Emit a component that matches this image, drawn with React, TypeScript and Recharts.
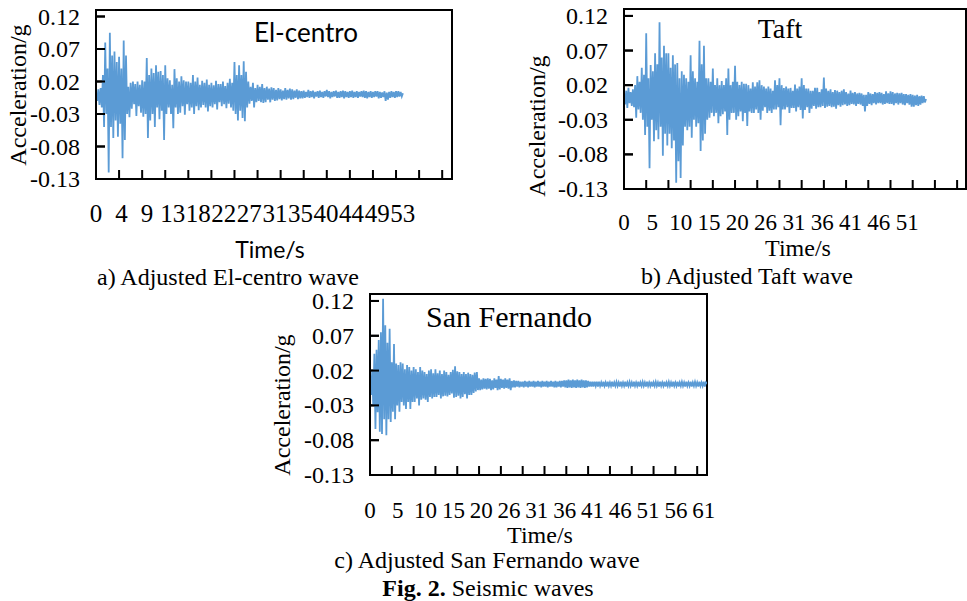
import React from 'react';
import { LineChart, Line, XAxis, YAxis, ReferenceArea, CartesianGrid } from 'recharts';

// ---------- data (acceleration in g, sampled every DT seconds) ----------
const EL_DT = 0.2;
const EL_VALUES = [
  0.004, -0.01, 0.008, -0.016, 0.01, -0.02, 0.03, -0.05, 0.08, -0.03,
  0.04, -0.12, 0.095, -0.05, 0.06, -0.067, 0.066, -0.04, 0.05, -0.065,
  0.058, -0.045, 0.04, -0.098, 0.083, -0.07, 0.06, -0.03, 0.012, -0.035,
  0.018, -0.022, 0.02, -0.015, 0.016, -0.033, 0.02, -0.018, 0.015, -0.028,
  0.022, -0.034, 0.02, -0.03, 0.056, -0.067, 0.03, -0.04, 0.04, -0.03,
  0.033, -0.05, 0.045, -0.02, 0.035, -0.038, 0.036, -0.025, 0.03, -0.07,
  0.045, -0.03, 0.025, -0.02, 0.022, -0.03, 0.015, -0.052, 0.039, -0.02,
  0.025, -0.03, 0.02, -0.028, 0.028, -0.018, 0.022, -0.031, 0.02, -0.015,
  0.02, -0.025, 0.018, -0.02, 0.03, -0.03, 0.02, -0.018, 0.026, -0.024,
  0.015, -0.02, 0.021, -0.016, 0.018, -0.02, 0.023, -0.026, 0.015, -0.018,
  0.018, -0.02, 0.014, -0.015, 0.021, -0.023, 0.016, -0.012, 0.016, -0.018,
  0.02, -0.015, 0.013, -0.021, 0.018, -0.014, 0.024, -0.02, 0.018, -0.025,
  0.05, -0.03, 0.03, -0.04, 0.045, -0.025, 0.03, -0.036, 0.051, -0.041,
  0.035, -0.02, 0.02, -0.014, 0.012, -0.01, 0.018, -0.02, 0.01, -0.012,
  0.015, -0.01, 0.012, -0.012, 0.016, -0.013, 0.01, -0.012, 0.012, -0.008,
  0.009, -0.012, 0.011, -0.008, 0.01, -0.01, 0.007, -0.009, 0.01, -0.007,
  0.008, -0.009, 0.006, -0.007, 0.01, -0.008, 0.007, -0.006, 0.009, -0.008,
  0.008, -0.007, 0.006, -0.005, 0.008, -0.007, 0.006, -0.006, 0.005, -0.006,
  0.006, -0.005, 0.004, -0.004, 0.007, -0.005, 0.005, -0.004, 0.006, -0.006,
  0.004, -0.003, 0.005, -0.005, 0.006, -0.004, 0.004, -0.005, 0.005, -0.003,
  0.007, -0.004, 0.005, -0.006, 0.004, -0.004, 0.005, -0.003, 0.006, -0.005,
  0.004, -0.005, 0.005, -0.004, 0.006, -0.006, 0.005, -0.004, 0.004, -0.005,
  0.005, -0.004, 0.006, -0.005, 0.004, -0.004, 0.005, -0.005, 0.004, -0.003,
  0.005, -0.004, 0.006, -0.005, 0.005, -0.006, 0.004, -0.004, 0.005, -0.005,
  0.004, -0.004, 0.005, -0.003, 0.005, -0.006, 0.004, -0.005, 0.003, -0.004,
  0.005, -0.01, 0.003, -0.008, 0.004, -0.005, 0.005, -0.004, 0.004, -0.005,
  0.005, -0.004, 0.005, -0.003, 0.004, -0.003, 0.002,
];

const TAFT_DT = 0.2;
const TAFT_VALUES = [
  0.01, -0.008, 0.012, -0.013, 0.016, -0.006, 0.01, -0.01, 0.014, -0.012,
  0.02, -0.027, 0.033, -0.015, 0.025, -0.02, 0.045, -0.03, 0.035, -0.052,
  0.095, -0.04, 0.03, -0.1, 0.049, -0.03, 0.04, -0.061, 0.066, -0.045,
  0.05, -0.058, 0.111, -0.04, 0.06, -0.082, 0.077, -0.05, 0.066, -0.067,
  0.066, -0.05, 0.045, -0.071, 0.063, -0.06, 0.05, -0.121, 0.052, -0.09,
  0.03, -0.114, 0.04, -0.067, 0.035, -0.04, 0.03, -0.045, 0.025, -0.04,
  0.063, -0.056, 0.04, -0.03, 0.03, -0.04, 0.025, -0.035, 0.084, -0.075,
  0.05, -0.06, 0.077, -0.05, 0.03, -0.03, 0.03, -0.027, 0.025, -0.02,
  0.044, -0.025, 0.02, -0.02, 0.03, -0.035, 0.02, -0.025, 0.026, -0.022,
  0.02, -0.018, 0.03, -0.052, 0.044, -0.03, 0.02, -0.02, 0.025, -0.02,
  0.048, -0.03, 0.025, -0.025, 0.02, -0.018, 0.025, -0.032, 0.022, -0.02,
  0.022, -0.039, 0.02, -0.018, 0.015, -0.02, 0.024, -0.02, 0.018, -0.015,
  0.024, -0.02, 0.027, -0.03, 0.02, -0.017, 0.018, -0.012, 0.015, -0.02,
  0.018, -0.017, 0.015, -0.02, 0.012, -0.015, 0.027, -0.015, 0.02, -0.012,
  0.03, -0.038, 0.02, -0.015, 0.016, -0.015, 0.018, -0.012, 0.015, -0.02,
  0.016, -0.013, 0.012, -0.013, 0.021, -0.018, 0.015, -0.012, 0.018, -0.016,
  0.03, -0.028, 0.02, -0.016, 0.015, -0.012, 0.015, -0.02, 0.012, -0.014,
  0.012, -0.01, 0.016, -0.014, 0.016, -0.012, 0.01, -0.012, 0.014, -0.01,
  0.031, -0.013, 0.015, -0.011, 0.012, -0.01, 0.014, -0.012, 0.01, -0.011,
  0.013, -0.014, 0.012, -0.009, 0.01, -0.011, 0.012, -0.009, 0.014, -0.008,
  0.01, -0.01, 0.008, -0.009, 0.012, -0.007, 0.009, -0.008, 0.01, -0.01,
  0.008, -0.007, 0.009, -0.008, 0.008, -0.01, 0.006, -0.018, 0.006, -0.01,
  0.01, -0.007, 0.008, -0.009, 0.007, -0.006, 0.01, -0.008, 0.009, -0.006,
  0.01, -0.006, 0.009, -0.008, 0.007, -0.007, 0.011, -0.006, 0.008, -0.007,
  0.011, -0.007, 0.01, -0.009, 0.008, -0.006, 0.009, -0.008, 0.008, -0.006,
  0.009, -0.008, 0.007, -0.009, 0.007, -0.006, 0.006, -0.008, 0.007, -0.011,
  0.006, -0.011, 0.005, -0.009, 0.006, -0.01, 0.004, -0.008, 0.005, -0.006,
  0.004, -0.005, 0.0,
];

const SF_DT = 0.2;
const SF_VALUES = [
  0.014, -0.015, 0.02, -0.03, 0.044, -0.064, 0.05, -0.04, 0.064, -0.068,
  0.075, -0.071, 0.123, -0.05, 0.085, -0.073, 0.06, -0.05, 0.08, -0.054,
  0.032, -0.039, 0.058, -0.05, 0.03, -0.03, 0.028, -0.039, 0.032, -0.025,
  0.03, -0.03, 0.022, -0.035, 0.028, -0.025, 0.025, -0.035, 0.02, -0.025,
  0.025, -0.025, 0.022, -0.02, 0.018, -0.03, 0.025, -0.022, 0.02, -0.02,
  0.018, -0.022, 0.015, -0.025, 0.02, -0.018, 0.022, -0.02, 0.016, -0.018,
  0.022, -0.018, 0.016, -0.015, 0.02, -0.02, 0.015, -0.017, 0.02, -0.016,
  0.018, -0.017, 0.014, -0.015, 0.018, -0.013, 0.021, -0.019, 0.026, -0.018,
  0.019, -0.016, 0.018, -0.02, 0.015, -0.018, 0.018, -0.014, 0.015, -0.02,
  0.017, -0.015, 0.015, -0.015, 0.014, -0.012, 0.017, -0.01, 0.018, -0.008,
  0.009, -0.008, 0.007, -0.007, 0.009, -0.006, 0.008, -0.007, 0.009, -0.006,
  0.008, -0.008, 0.006, -0.007, 0.009, -0.005, 0.007, -0.008, 0.012, -0.007,
  0.008, -0.005, 0.007, -0.006, 0.009, -0.005, 0.007, -0.006, 0.009, -0.008,
  0.005, -0.004, 0.006, -0.004, 0.005, -0.003, 0.005, -0.004, 0.004, -0.003,
  0.004, -0.004, 0.005, -0.003, 0.004, -0.004, 0.005, -0.003, 0.004, -0.003,
  0.005, -0.004, 0.004, -0.003, 0.005, -0.003, 0.004, -0.004, 0.005, -0.003,
  0.004, -0.003, 0.005, -0.004, 0.004, -0.003, 0.005, -0.003, 0.004, -0.004,
  0.005, -0.004, 0.004, -0.003, 0.005, -0.004, 0.005, -0.003, 0.006, -0.004,
  0.006, -0.005, 0.007, -0.004, 0.006, -0.005, 0.007, -0.004, 0.006, -0.005,
  0.007, -0.004, 0.006, -0.005, 0.007, -0.004, 0.006, -0.005, 0.006, -0.004,
  0.005, -0.003, 0.004, -0.003, 0.004, -0.003, 0.004, -0.002, 0.004, -0.003,
  0.004, -0.002, 0.003, -0.003, 0.004, -0.002, 0.003, -0.003, 0.004, -0.002,
  0.003, -0.002, 0.004, -0.003, 0.003, -0.002, 0.004, -0.002, 0.003, -0.003,
  0.004, -0.002, 0.003, -0.002, 0.004, -0.003, 0.003, -0.002, 0.004, -0.002,
  0.003, -0.003, 0.004, -0.002, 0.003, -0.002, 0.004, -0.003, 0.003, -0.002,
  0.004, -0.002, 0.003, -0.003, 0.004, -0.002, 0.003, -0.002, 0.004, -0.003,
  0.003, -0.002, 0.004, -0.002, 0.003, -0.003, 0.004, -0.002, 0.003, -0.002,
  0.004, -0.003, 0.003, -0.002, 0.004, -0.002, 0.003, -0.003, 0.004, -0.002,
  0.003, -0.002, 0.004, -0.003, 0.003, -0.002, 0.004, -0.002, 0.003, -0.003,
  0.004, -0.002, 0.003, -0.002, 0.004, -0.003, 0.003, -0.002, 0.004, -0.002,
  0.003, -0.003, 0.004, -0.002, 0.003, -0.002, 0.004, -0.003, 0.003, 0.001,
];

// ---------- axes ----------
const Y_TICKS = [-0.13, -0.08, -0.03, 0.02, 0.07, 0.12];
const Y_MIN = -0.13;
const Y_MAX = 0.13;

const TICK_MARKS = [0, 4, 8, 12, 16, 20, 24, 28, 32, 36, 40, 44, 48, 52, 56, 60];

const EL_X_MAX = 61.7;
const EL_LABEL_POS = [0, 4.43, 8.86, 13.29, 17.72, 22.15, 26.58, 31.01, 35.44, 39.87, 44.3, 48.73, 53.16];
const EL_LABELS = ['0', '4', '9', '13', '18', '22', '27', '31', '35', '40', '44', '49', '53'];

const TAFT_X_MAX = 61.6;
const TAFT_LABEL_POS = [0, 5.1, 10.2, 15.3, 20.4, 25.5, 30.6, 35.7, 40.8, 45.9, 51.0];
const TAFT_LABELS = ['0', '5', '10', '15', '20', '26', '31', '36', '41', '46', '51'];

const SF_X_MAX = 61.8;
const SF_LABEL_POS = [0, 5.1, 10.2, 15.3, 20.4, 25.5, 30.6, 35.7, 40.8, 45.9, 51.0, 56.1, 61.2];
const SF_LABELS = ['0', '5', '10', '15', '20', '26', '31', '36', '41', '46', '51', '56', '61'];

const SERIF = '"Liberation Serif", "Times New Roman", Times, serif';
const SANS = 'Lato, "Open Sans", "Liberation Sans", sans-serif';
const LINE_COLOR = '#5B9BD5';
const AXIS_STROKE = { stroke: '#000', strokeWidth: 2 };
const TICK_LEN = 9;

const toRows = (vals: number[], dt: number) =>
  vals.map((v, i) => ({ t: Math.round(i * dt * 100) / 100, v }));

const near = (a: number, b: number) => Math.abs(a - b) < 1e-6;

// Bottom-axis tick: inward tick mark and/or label. At the origin tick it also draws the
// inward marks of the left axis, spaced by the y domain over the plot height.
const makeXTick = (labelPos: number[], labels: string[], labelOffset: number, fontSize: number, plotHeight: number) => (props: any) => {
  const x = Number(props.x);
  const y = Number(props.y);
  const v = props.payload.value;
  const isMark = TICK_MARKS.some((m) => near(m, v));
  const li = labelPos.findIndex((p) => near(p, v));
  const yMarks = near(v, 0)
    ? Y_TICKS.map((t) => y - ((t - Y_MIN) / (Y_MAX - Y_MIN)) * plotHeight)
    : [];
  return (
    <g>
      {isMark && <rect x={x - 1} y={y - TICK_LEN} width={2} height={TICK_LEN} fill="#000" stroke="none" />}
      {yMarks.map((yy, i) => (
        <rect key={`ym${i}`} x={x} y={yy - 1} width={TICK_LEN} height={2} fill="#000" stroke="none" />
      ))}
      {li >= 0 && (
        <text x={x} y={y + labelOffset} textAnchor="middle" dominantBaseline="central"
          fontFamily={SERIF} fontSize={fontSize} fill="#000" stroke="none">{labels[li]}</text>
      )}
    </g>
  );
};

const YTick = (props: any) => {
  const x = Number(props.x);
  const y = Number(props.y);
  return (
    <text x={x - 16} y={y} textAnchor="end" dominantBaseline="central"
      fontFamily={SERIF} fontSize={24} fill="#000" stroke="none">{Number(props.payload.value).toFixed(2)}</text>
  );
};

type WaveProps = {
  left: number; top: number; width: number; height: number;
  margin: { top: number; right: number; bottom: number; left: number };
  yAxisWidth: number; xAxisHeight: number;
  values: number[]; dt: number; xMax: number;
  labelPos: number[]; labels: string[]; labelOffset: number; labelSize: number;
};

const WaveChart = (p: WaveProps) => {
  const rows = toRows(p.values, p.dt);
  const xTicks = Array.from(new Set([...TICK_MARKS, ...p.labelPos])).sort((a, b) => a - b);
  const plotHeight = p.height - p.margin.top - p.margin.bottom - p.xAxisHeight;
  return (
    <div style={{ position: 'absolute', left: p.left, top: p.top }}>
      <LineChart width={p.width} height={p.height} data={rows} margin={p.margin}>
        <CartesianGrid vertical={false} horizontal stroke="#000" strokeWidth={2}
          strokeDasharray={`${TICK_LEN} 4000`} xAxisId={0} yAxisId={0} />
        <XAxis xAxisId={0} type="number" dataKey="t" domain={[0, p.xMax]} ticks={xTicks} interval={0}
          height={p.xAxisHeight} tickSize={0} tickMargin={0} axisLine={AXIS_STROKE} tickLine={false}
          tick={makeXTick(p.labelPos, p.labels, p.labelOffset, p.labelSize, plotHeight)} allowDataOverflow />
        <YAxis yAxisId={0} type="number" domain={[Y_MIN, Y_MAX]} ticks={Y_TICKS} interval={0}
          width={p.yAxisWidth} tickSize={0} tickMargin={0} axisLine={AXIS_STROKE} tickLine={false}
          tick={YTick} allowDataOverflow />
        <ReferenceArea xAxisId={0} yAxisId={0} x1={0} x2={p.xMax} y1={Y_MIN} y2={Y_MAX}
          fill="none" fillOpacity={0} stroke="#000" strokeWidth={2} strokeOpacity={1} />
        <Line xAxisId={0} yAxisId={0} type="linear" dataKey="v" stroke={LINE_COLOR} strokeWidth={1.8}
          dot={false} activeDot={false} isAnimationActive={false} />
      </LineChart>
    </div>
  );
};

const Txt = (p: { x: number; y: number; size: number; family: string; rotate?: boolean; children: React.ReactNode }) => (
  <div style={{
    position: 'absolute', left: p.x, top: p.y,
    transform: `translate(-50%, -50%)${p.rotate ? ' rotate(-90deg)' : ''}`,
    fontSize: p.size, fontFamily: p.family, lineHeight: 1, whiteSpace: 'nowrap', color: '#000',
    pointerEvents: 'none',
  }}>{p.children}</div>
);

export default function App() {
  return (
    <div style={{ position: 'absolute', left: 0, top: 0, width: 967, height: 601, background: '#fff', overflow: 'hidden' }}>
      <WaveChart left={0} top={0} width={470} height={240}
        margin={{ top: 10, right: 18, bottom: 11, left: 0 }} yAxisWidth={96} xAxisHeight={50}
        values={EL_VALUES} dt={EL_DT} xMax={EL_X_MAX}
        labelPos={EL_LABEL_POS} labels={EL_LABELS} labelOffset={34} labelSize={25} />
      <WaveChart left={500} top={0} width={467} height={240}
        margin={{ top: 9, right: 1, bottom: 11, left: 0 }} yAxisWidth={124} xAxisHeight={40}
        values={TAFT_VALUES} dt={TAFT_DT} xMax={TAFT_X_MAX}
        labelPos={TAFT_LABEL_POS} labels={TAFT_LABELS} labelOffset={33} labelSize={23} />
      <WaveChart left={270} top={285} width={460} height={245}
        margin={{ top: 9, right: 23, bottom: 10, left: 0 }} yAxisWidth={100} xAxisHeight={45}
        values={SF_VALUES} dt={SF_DT} xMax={SF_X_MAX}
        labelPos={SF_LABEL_POS} labels={SF_LABELS} labelOffset={35} labelSize={23} />

      {/* chart a texts */}
      <Txt x={18} y={95} size={24} family={SERIF} rotate>Acceleration/g</Txt>
      <Txt x={306} y={32} size={26} family={SANS}>El-centro</Txt>
      <Txt x={270} y={249} size={23} family={SANS}>Time/s</Txt>
      <Txt x={228} y={277} size={24} family={SERIF}>a) Adjusted El-centro wave</Txt>

      {/* chart b texts */}
      <Txt x={537} y={126} size={24} family={SERIF} rotate>Acceleration/g</Txt>
      <Txt x={780} y={29} size={28} family={SERIF}>Taft</Txt>
      <Txt x={798} y={248} size={24} family={SERIF}>Time/s</Txt>
      <Txt x={747} y={276} size={24} family={SERIF}>b) Adjusted Taft wave</Txt>

      {/* chart c texts */}
      <Txt x={282} y={405} size={24} family={SERIF} rotate>Acceleration/g</Txt>
      <Txt x={509} y={317} size={30} family={SERIF}>San Fernando</Txt>
      <Txt x={540} y={535} size={24} family={SERIF}>Time/s</Txt>
      <Txt x={487} y={560} size={24} family={SERIF}>c) Adjusted San Fernando wave</Txt>
      <Txt x={488} y={588} size={24} family={SERIF}><b>Fig. 2.</b> Seismic waves</Txt>
    </div>
  );
}
